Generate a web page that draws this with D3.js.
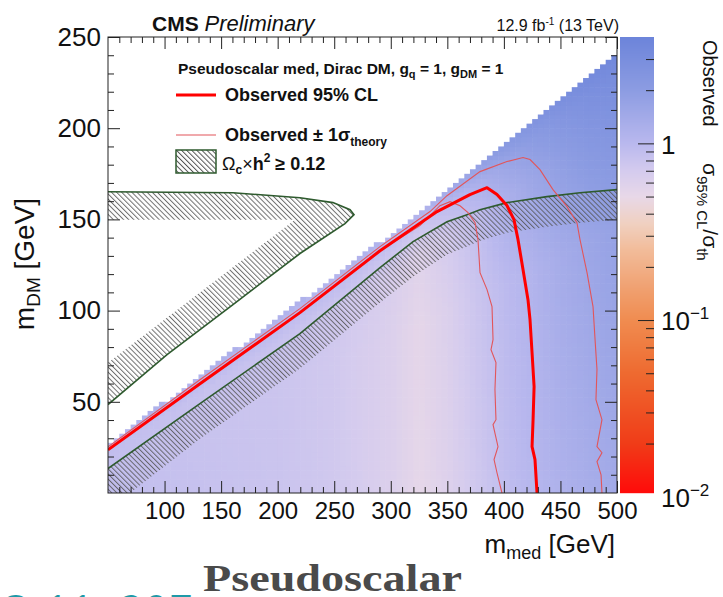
<!DOCTYPE html>
<html>
<head>
<meta charset="utf-8">
<script src="https://cdn.jsdelivr.net/npm/d3@7"></script>
<style>
  body { margin: 0; background: #fff; }
  svg { display: block; }
</style>
</head>
<body>
<svg id="chart" width="723" height="597"></svg>
<script>
// ---- data (m_med, m_DM in GeV) ----
const boundaryMed = [50, 290, 385, 500];
const boundaryDM  = [27, 137.5, 182.5, 242];

// observed 95% CL contour
const obsMed = [50, 131.3, 219.7, 290.5, 340.9, 370.0, 385.1, 393.9, 402.7, 408.9, 412.5, 416.9, 421.3, 423.1, 424.9, 426.7, 425.8, 424.9, 427.5, 429.3];
const obsDM  = [23.7, 59.9, 98.9, 132.8, 154.3, 163.6, 167.4, 163.6, 157.6, 149.9, 138.9, 122.5, 106.0, 95.0, 76.9, 58.3, 40.2, 25.4, 18.3, 0];

// observed +/- 1 sigma theory
const obsUpMed = [50, 131.3, 219.7, 290.5, 334.7, 349.7, 378.9, 402.7, 416.9, 423.1, 431.9, 443.4, 455.8, 464.6, 467.3, 473.5, 478.8, 480.6, 482.3, 481.4, 486.7, 482.3, 486.7, 482.3, 485.9, 486.7];
const obsUpDM  = [25.3, 62.1, 101.1, 135.1, 154.3, 163.0, 176.2, 181.7, 183.9, 182.8, 177.3, 166.3, 157.0, 148.2, 138.9, 120.8, 102.2, 84.1, 67.7, 51.2, 40.2, 25.4, 22.1, 17.2, 10.0, 0];
const obsDnMed = [50, 131.3, 219.7, 290.5, 325.8, 343.5, 352.4, 361.2, 368.3, 374.5, 377.1, 378.9, 385.1, 389.5, 390.4, 388.6, 393.0, 392.1, 393.0, 390.4, 394.8, 391.3, 393.9, 398.3];
const obsDnDM  = [23.7, 59.9, 98.9, 132.8, 146.6, 157.5, 159.7, 157.5, 153.7, 148.2, 138.9, 120.8, 111.5, 102.2, 84.1, 78.6, 71.5, 56.7, 40.2, 37.5, 25.4, 18.3, 11.1, 0];

// relic density contours (line) and the inner edge of their hatched strip
const relicAMed = [50, 160.5, 219.7, 248.9, 264.0, 267.5, 259.5, 219.7, 160.5, 102.2, 50];
const relicADM  = [165.2, 164.6, 161.9, 159.2, 155.3, 152.6, 147.7, 131.3, 103.3, 75.9, 48.5];
const relicAInMed = [50, 215.3, 50];
const relicAInDM  = [71.4, 149.8, 149.8];
const relicBMed = [50, 131.3, 219.7, 290.5, 319.7, 349.7, 367.4, 378.9, 402.8, 438.1, 467.3, 500];
const relicBDM  = [13.4, 49.0, 87.4, 123.6, 137.8, 148.7, 152.6, 155.3, 159.2, 162.5, 164.6, 166.3];
const relicBInMed = [50, 69.5, 131.3, 219.7, 290.5, 319.7, 349.7, 367.4, 378.9, 402.8, 438.1, 467.3, 500];
const relicBInDM  = [0, 0, 29.8, 68.2, 104.4, 118.6, 130.7, 135.1, 138.3, 142.7, 146.0, 148.2, 149.8];

// sigma95/sigma_th map: columns in m_med, rows in fraction of the kinematic edge
const ratioMed  = [50, 100, 150, 200, 250, 300, 325, 350, 375, 400, 425, 450, 475, 500];
const ratioFrac = [0, 0.6, 0.85, 0.95, 1.0];
const ratioRow0   = [0.90, 0.86, 0.83, 0.80, 0.74, 0.62, 0.52, 0.60, 0.74, 0.90, 1.04, 1.18, 1.30, 1.42];
const ratioRow60  = [0.88, 0.84, 0.81, 0.79, 0.73, 0.62, 0.53, 0.62, 0.78, 0.95, 1.12, 1.35, 1.55, 1.75];
const ratioRow85  = [0.90, 0.86, 0.83, 0.82, 0.76, 0.66, 0.58, 0.70, 0.88, 1.20, 1.55, 1.90, 2.30, 2.60];
const ratioRow95  = [1.00, 0.98, 0.97, 0.96, 0.92, 0.85, 0.80, 0.95, 1.20, 1.60, 2.00, 2.40, 2.80, 3.10];
const ratioRow100 = [1.20, 1.20, 1.20, 1.18, 1.15, 1.15, 1.20, 1.40, 1.70, 2.10, 2.50, 2.90, 3.30, 3.60];

// colour palette of the z axis
const paletteVals   = [0.0105, 0.02, 0.05, 0.1, 0.15, 0.25, 0.35, 0.5, 0.7, 1, 2, 4];
const paletteColors = ["#ff0a0a", "#f03c18", "#ee6a30", "#f08c50", "#f0a070", "#f2bc9a", "#f0d0c0", "#e8d8e8", "#d4cbee", "#b9b8ee", "#8c9ce2", "#6c84da"];

const xMajor = [100, 150, 200, 250, 300, 350, 400, 450, 500];
const yMajor = [50, 100, 150, 200, 250];
const zMajor = [0.1, 1];

// ---- layout ----
const L = 108, R = 617, T = 37, B = 493;
const svg = d3.select("#chart");
const font = "'Liberation Sans', Arial, Helvetica, sans-serif";

const x = d3.scaleLinear().domain([50, 500]).range([L, R]);
const y = d3.scaleLinear().domain([0, 250]).range([B, T]);
const z = d3.scaleLog().domain([0.0105, 4]).range([B, T]);
const palette = d3.scaleLog().domain(paletteVals).range(paletteColors).clamp(true);

const zip = (a, b) => a.map((v, i) => [v, b[i]]);
function interp(xs, ys, v) {
  if (v <= xs[0]) return ys[0];
  for (let i = 1; i < xs.length; i++) {
    if (v <= xs[i]) {
      const t = (v - xs[i - 1]) / (xs[i] - xs[i - 1]);
      return ys[i - 1] + t * (ys[i] - ys[i - 1]);
    }
  }
  return ys[ys.length - 1];
}
const ratioRows = [ratioRow0, ratioRow60, ratioRow85, ratioRow95, ratioRow100];
function ratioAt(m, f) {
  const col = ratioRows.map(row => interp(ratioMed, row.map(Math.log), m));
  return Math.exp(interp(ratioFrac, col, f));
}

const defs = svg.append("defs");
defs.append("clipPath").attr("id", "plotclip")
  .append("rect").attr("x", L).attr("y", T).attr("width", R - L).attr("height", B - T);
const hatch = defs.append("pattern").attr("id", "hatch")
  .attr("patternUnits", "userSpaceOnUse")
  .attr("width", 3.6).attr("height", 3.6)
  .attr("patternTransform", "rotate(-45)");
hatch.append("line").attr("x1", 0.5).attr("y1", -1).attr("x2", 0.5).attr("y2", 5)
  .attr("stroke", "#555").attr("stroke-width", 1);

const plot = svg.append("g").attr("clip-path", "url(#plotclip)");

// heat map cells below the kinematic edge
const cellMed = 5, cellDM = 2.5;
const cells = [];
for (let m = 50; m < 500; m += cellMed) {
  const mc = m + cellMed / 2;
  const b = interp(boundaryMed, boundaryDM, mc);
  for (let d = 0; d < 250; d += cellDM) {
    const dc = d + cellDM / 2;
    if (dc > b) break;
    cells.push({ m: m, d: d, r: ratioAt(mc, dc / b) });
  }
}
plot.append("g").selectAll("rect")
  .data(cells)
  .join("rect")
    .attr("x", c => x(c.m))
    .attr("y", c => y(c.d + cellDM))
    .attr("width", c => x(c.m + cellMed) - x(c.m) + 0.6)
    .attr("height", c => y(c.d) - y(c.d + cellDM) + 0.6)
    .attr("fill", c => palette(c.r));

// relic hatched strips
const line = d3.line().x(d => x(d[0])).y(d => y(d[1]));
const bandA = zip(relicAMed, relicADM).concat(zip(relicAInMed, relicAInDM));
const bandB = zip(relicBMed, relicBDM).concat(zip(relicBInMed, relicBInDM).reverse());
plot.append("path").attr("d", line(bandA) + "Z").attr("fill", "url(#hatch)").attr("opacity", 0.85);
plot.append("path").attr("d", line(bandB) + "Z").attr("fill", "url(#hatch)").attr("opacity", 0.85);
plot.append("path").attr("d", line(zip(relicAMed, relicADM))).attr("fill", "none").attr("stroke", "#2e5a2e").attr("stroke-width", 1.6);
plot.append("path").attr("d", line(zip(relicBMed, relicBDM))).attr("fill", "none").attr("stroke", "#2e5a2e").attr("stroke-width", 1.6);

// observed limit contours
plot.append("path").attr("d", line(zip(obsUpMed, obsUpDM))).attr("fill", "none").attr("stroke", "#e2555a").attr("stroke-width", 1.1);
plot.append("path").attr("d", line(zip(obsDnMed, obsDnDM))).attr("fill", "none").attr("stroke", "#e2555a").attr("stroke-width", 1.1);
plot.append("path").attr("d", line(zip(obsMed, obsDM))).attr("fill", "none").attr("stroke", "#ff0000").attr("stroke-width", 3).attr("stroke-linejoin", "round");

// axes (ticks inside on all four sides)
const xMinor = d3.range(60, 500, 10).filter(v => v % 50 !== 0);
const yMinor = d3.range(10, 250, 10).filter(v => v % 50 !== 0);
function clean(g) { g.select(".domain").remove(); g.attr("color", "#222"); }

svg.append("g").attr("transform", `translate(0,${B})`)
  .call(d3.axisBottom(x).tickValues(xMajor).tickSizeInner(-12).tickSizeOuter(0).tickPadding(9).tickFormat(d3.format("d")))
  .call(clean)
  .call(g => g.selectAll("text").attr("font-family", font).attr("font-size", 24).attr("fill", "#111"));
svg.append("g").attr("transform", `translate(0,${B})`)
  .call(d3.axisBottom(x).tickValues(xMinor).tickSizeInner(-6).tickSizeOuter(0).tickFormat(""))
  .call(clean);
svg.append("g").attr("transform", `translate(0,${T})`)
  .call(d3.axisTop(x).tickValues(xMajor).tickSizeInner(-12).tickSizeOuter(0).tickFormat(""))
  .call(clean);
svg.append("g").attr("transform", `translate(0,${T})`)
  .call(d3.axisTop(x).tickValues(xMinor).tickSizeInner(-6).tickSizeOuter(0).tickFormat(""))
  .call(clean);

svg.append("g").attr("transform", `translate(${L},0)`)
  .call(d3.axisLeft(y).tickValues(yMajor).tickSizeInner(-12).tickSizeOuter(0).tickPadding(7).tickFormat(d3.format("d")))
  .call(clean)
  .call(g => g.selectAll("text").attr("font-family", font).attr("font-size", 26).attr("fill", "#111"));
svg.append("g").attr("transform", `translate(${L},0)`)
  .call(d3.axisLeft(y).tickValues(yMinor).tickSizeInner(-6).tickSizeOuter(0).tickFormat(""))
  .call(clean);
svg.append("g").attr("transform", `translate(${R},0)`)
  .call(d3.axisRight(y).tickValues(yMajor).tickSizeInner(-12).tickSizeOuter(0).tickFormat(""))
  .call(clean);
svg.append("g").attr("transform", `translate(${R},0)`)
  .call(d3.axisRight(y).tickValues(yMinor).tickSizeInner(-6).tickSizeOuter(0).tickFormat(""))
  .call(clean);

svg.append("rect").attr("x", L).attr("y", T).attr("width", R - L).attr("height", B - T)
  .attr("fill", "none").attr("stroke", "#222").attr("stroke-width", 1);

// colour bar
const ZL = 620, ZR = 654;
svg.append("g").selectAll("rect")
  .data(d3.range(T, B))
  .join("rect")
    .attr("x", ZL).attr("y", d => d).attr("width", ZR - ZL).attr("height", 1.2)
    .attr("fill", d => palette(z.invert(d + 0.5)));
const zMinor = [0.02, 0.03, 0.04, 0.05, 0.06, 0.07, 0.08, 0.09, 0.2, 0.3, 0.4, 0.5, 0.6, 0.7, 0.8, 0.9, 2, 3];
svg.append("g").attr("transform", `translate(${ZR},0)`)
  .call(d3.axisLeft(z).tickValues(zMajor).tickSizeInner(16).tickSizeOuter(0).tickFormat(""))
  .call(clean);
svg.append("g").attr("transform", `translate(${ZR},0)`)
  .call(d3.axisLeft(z).tickValues(zMinor).tickSizeInner(8).tickSizeOuter(0).tickFormat(""))
  .call(clean);

const zl = svg.append("g").attr("font-family", font).attr("fill", "#111");
zl.append("text").attr("x", 661).attr("y", z(1) + 11).attr("font-size", 26).text("1");
[[0.1, "\u22121"], [0.01, "\u22122"]].forEach(([v, e]) => {
  const t = zl.append("text").attr("x", 661).attr("y", z(v) + 10).attr("font-size", 26);
  t.append("tspan").text("10");
  t.append("tspan").attr("font-size", 17).attr("dy", -11).text(e);
});

// colour bar title (rotated, reading downwards)
const zt = svg.append("g").attr("font-family", font).attr("fill", "#111");
zt.append("text").attr("transform", "translate(703,40) rotate(90)").attr("font-size", 20).text("Observed");
const zs = zt.append("text").attr("transform", "translate(703,163) rotate(90)").attr("font-size", 21);
zs.append("tspan").text("\u03c3");
zs.append("tspan").attr("font-size", 15).attr("dy", 6).text("95% CL");
zs.append("tspan").attr("dy", -6).text("/\u03c3");
zs.append("tspan").attr("font-size", 15).attr("dy", 6).text("th");

// axis titles
const xt = svg.append("text").attr("font-family", font).attr("font-size", 26).attr("fill", "#111")
  .attr("text-anchor", "end").attr("x", 615).attr("y", 553);
xt.append("tspan").text("m");
xt.append("tspan").attr("font-size", 18).attr("dy", 6).text("med");
xt.append("tspan").attr("dy", -6).text(" [GeV]");

const yt = svg.append("text").attr("font-family", font).attr("font-size", 28).attr("fill", "#111")
  .attr("text-anchor", "middle").attr("transform", "translate(34,264) rotate(-90)");
yt.append("tspan").text("m");
yt.append("tspan").attr("font-size", 19).attr("dy", 6).text("DM");
yt.append("tspan").attr("dy", -6).text(" [GeV]");

// header
const hd = svg.append("text").attr("font-family", font).attr("font-size", 21).attr("fill", "#111").attr("x", 152).attr("y", 31);
hd.append("tspan").attr("font-weight", "bold").text("CMS ");
hd.append("tspan").attr("font-style", "italic").attr("font-size", 22).text("Preliminary");
const lumi = svg.append("text").attr("font-family", font).attr("font-size", 16).attr("fill", "#111")
  .attr("text-anchor", "end").attr("x", 619).attr("y", 31);
lumi.append("tspan").text("12.9 fb");
lumi.append("tspan").attr("font-size", 10).attr("dy", -6).text("-1");
lumi.append("tspan").attr("dy", 6).text(" (13 TeV)");

// legend
const lg = svg.append("g").attr("font-family", font).attr("font-weight", "bold").attr("fill", "#111");
const lt = lg.append("text").attr("x", 178).attr("y", 74).attr("font-size", 15.5);
lt.append("tspan").text("Pseudoscalar med, Dirac DM, g");
lt.append("tspan").attr("font-size", 11).attr("dy", 4).text("q");
lt.append("tspan").attr("dy", -4).text(" = 1, g");
lt.append("tspan").attr("font-size", 11).attr("dy", 4).text("DM");
lt.append("tspan").attr("dy", -4).text(" = 1");

lg.append("line").attr("x1", 176).attr("x2", 216).attr("y1", 95).attr("y2", 95).attr("stroke", "#ff0000").attr("stroke-width", 3);
lg.append("text").attr("x", 225).attr("y", 101).attr("font-size", 18).text("Observed 95% CL");

lg.append("line").attr("x1", 176).attr("x2", 216).attr("y1", 135).attr("y2", 135).attr("stroke", "#e2555a").attr("stroke-width", 1.1);
const l2 = lg.append("text").attr("x", 225).attr("y", 141).attr("font-size", 18);
l2.append("tspan").text("Observed \u00b1 1\u03c3");
l2.append("tspan").attr("font-size", 12).attr("dy", 5).text("theory");

lg.append("rect").attr("x", 176).attr("y", 150).attr("width", 40).attr("height", 23)
  .attr("fill", "url(#hatch)").attr("stroke", "#2e5a2e").attr("stroke-width", 1.5);
const l3 = lg.append("text").attr("x", 222).attr("y", 170).attr("font-size", 18);
l3.append("tspan").attr("font-weight", "normal").text("\u03a9");
l3.append("tspan").attr("font-size", 12).attr("dy", 4).text("c");
l3.append("tspan").attr("font-weight", "normal").attr("dy", -4).text("\u00d7");
l3.append("tspan").text("h");
l3.append("tspan").attr("font-size", 12).attr("dy", -8).text("2");
l3.append("tspan").attr("dy", 8).text(" \u2265 0.12");

// slide caption and footer
svg.append("text").attr("x", 203).attr("y", 591)
  .attr("font-family", "'Liberation Serif', 'DejaVu Serif', serif").attr("font-weight", "bold")
  .attr("font-size", 38).attr("fill", "#4a4a4a")
  .attr("textLength", 259).attr("lengthAdjust", "spacingAndGlyphs")
  .text("Pseudoscalar");
svg.append("text").attr("x", 0).attr("y", 624)
  .attr("font-family", "'Open Sans', sans-serif").attr("font-size", 40).attr("fill", "#1e9aa8")
  .attr("letter-spacing", 2)
  .text("O 11, 207");
</script>
</body>
</html>
